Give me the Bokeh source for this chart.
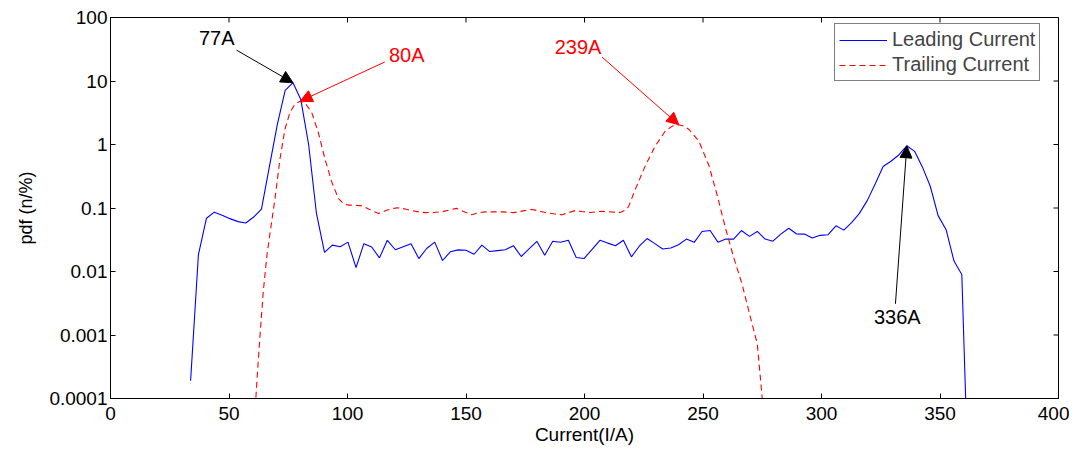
import math
from bokeh.plotting import figure
from bokeh.models import (FixedTicker, CustomJSTickFormatter,
                          Arrow, NormalHead, Label, Legend, LegendItem)
from bokeh.embed import file_html
from bokeh.resources import INLINE

# ---------------- data ----------------
lead_x = [33.8, 37.1, 40.5, 43.8, 47.1, 50.4, 53.8, 57.1, 60.4, 63.7,
          67.0, 70.4, 73.7, 77.0, 80.3, 83.6, 86.9, 90.3, 93.6, 96.9,
          100.2, 103.6, 106.9, 110.2, 113.5, 116.8, 120.2, 123.5, 126.8, 130.1,
          133.4, 136.8, 140.1, 143.4, 146.7, 150.0, 153.4, 156.7, 160.0, 163.3,
          166.6, 170.0, 173.3, 176.6, 179.9, 183.2, 186.6, 189.9, 193.2, 196.5,
          199.8, 203.2, 206.5, 209.8, 213.1, 216.4, 219.8, 223.1, 226.4, 229.7,
          233.0, 236.4, 239.7, 243.0, 246.3, 249.6, 253.0, 256.3, 259.6, 262.9,
          266.2, 269.6, 272.9, 276.2, 279.5, 282.8, 286.2, 289.5, 292.8, 296.1,
          299.4, 302.8, 306.1, 309.4, 312.7, 316.0, 319.4, 322.7, 326.0, 329.3,
          332.6, 336.0, 339.3, 342.6, 345.9, 349.2, 352.6, 355.9, 359.2, 362.5]
lead_y = [0.00019, 0.0185, 0.069, 0.086, 0.077, 0.068, 0.061, 0.058, 0.072, 0.096,
          0.44, 2.08, 7.1, 9.4, 5.1, 1.0, 0.082, 0.020, 0.026, 0.0246,
          0.029, 0.0115, 0.0274, 0.0243, 0.0164, 0.031, 0.022, 0.0246, 0.0274, 0.016,
          0.023, 0.029, 0.0149, 0.0204, 0.0219, 0.0216, 0.0187, 0.026, 0.0206, 0.0213,
          0.022, 0.0255, 0.0172, 0.0227, 0.0299, 0.018, 0.0299, 0.0288, 0.031, 0.0166,
          0.016, 0.0223, 0.031, 0.028, 0.0255, 0.031, 0.017, 0.025, 0.033, 0.0275,
          0.0226, 0.0235, 0.0264, 0.0324, 0.0288, 0.0427, 0.0442, 0.029, 0.0324, 0.0324,
          0.0442, 0.0357, 0.0427, 0.0324, 0.030, 0.0388, 0.048, 0.039, 0.0388, 0.0336,
          0.0371, 0.038, 0.0525, 0.0448, 0.059, 0.0824, 0.133, 0.241, 0.45, 0.545,
          0.684, 0.955, 0.78, 0.44, 0.22, 0.0758, 0.0453, 0.0146, 0.009, 0.000001]

trail_x = [60.8, 62.0, 63.1, 64.5, 66.0, 67.3, 69.4, 71.5, 73.6, 75.7,
           77.8, 80.0, 82.5, 84.9, 87.7, 90.5, 93.3, 96.2, 98.5, 100.5,
           103.2, 106.0, 108.1, 110.5, 113.1, 116.5, 120.8, 124.0, 127.1, 130.0,
           132.8, 136.0, 139.8, 143.0, 146.1, 149.0, 152.5, 155.0, 158.1, 162.0,
           165.2, 170.1, 174.0, 177.8, 183.4, 187.0, 190.5, 193.0, 196.1, 199.0,
           202.5, 207.4, 211.0, 215.1, 217.0, 218.6, 221.5, 225.7, 229.9, 234.1,
           237.0, 239.8, 242.0, 244.0, 248.2, 252.5, 256.0, 259.5, 263.0, 266.5,
           270.0, 272.9, 275.0, 276.0]
trail_y = [0.00005, 0.00025, 0.001, 0.005, 0.018, 0.04, 0.14, 0.59, 1.74, 3.2,
           4.3, 4.8, 4.3, 3.2, 1.54, 0.59, 0.26, 0.14, 0.115, 0.111,
           0.111, 0.108, 0.1, 0.09, 0.082, 0.092, 0.101, 0.097, 0.091, 0.087,
           0.0845, 0.085, 0.087, 0.093, 0.0986, 0.088, 0.078, 0.084, 0.087, 0.087,
           0.087, 0.0845, 0.09, 0.095, 0.085, 0.081, 0.078, 0.084, 0.091, 0.088,
           0.085, 0.089, 0.087, 0.085, 0.092, 0.105, 0.2, 0.466, 0.955, 1.63,
           1.95, 2.05, 1.95, 1.74, 1.14, 0.466, 0.158, 0.048, 0.0164, 0.0063,
           0.0019, 0.00073, 0.0001, 0.00005]

x_ticks = [0, 50, 100, 150, 200, 250, 300, 350, 400]
y_ticks = [0.0001, 0.001, 0.01, 0.1, 1, 10, 100]

# annotations: label, text position, arrow start, colour
ann_labels = ["77A", "80A", "239A", "336A"]
ann_text_x = [44.8, 125.0, 197.3, 332.0]
ann_text_y = [47.0, 25.6, 34.1, 0.0019]
ann_start_x = [53.2, 115.7, 207.4, 331.2]
ann_start_y = [30.6, 19.9, 23.8, 0.0031]
ann_colors = ["black", "red", "red", "black"]

# ---------------- figure ----------------
FONT = "Liberation Sans"
X0, X1 = 0, 400
Y0, Y1 = 1e-4, 100
p = figure(width=1069, height=447, x_range=(X0, X1), y_range=(Y0, Y1),
           y_axis_type="log", output_backend="svg", toolbar_location=None,
           min_border_left=110, min_border_right=11, min_border_top=17,
           min_border_bottom=45)
p.xgrid.visible = False
p.ygrid.visible = False
p.outline_line_color = "black"
p.outline_line_alpha = 1
p.background_fill_color = "white"
p.border_fill_color = "white"

fmt = CustomJSTickFormatter(code="return String(Number(tick.toPrecision(1)));")

xa = p.xaxis[0]
xa.ticker = FixedTicker(ticks=x_ticks)
xa.axis_label = "Current(I/A)"
ya = p.yaxis[0]
ya.ticker = FixedTicker(ticks=y_ticks)
ya.formatter = fmt
ya.axis_label = "pdf (n/%)"

for ax in (xa, ya):
    ax.major_tick_in = 5
    ax.major_tick_out = 0
    ax.minor_tick_line_color = None
    ax.axis_line_color = "black"
    ax.major_label_text_font = FONT
    ax.major_label_text_font_size = "19px"
    ax.major_label_text_color = "black"
    ax.axis_label_text_font = FONT
    ax.axis_label_text_font_style = "normal"
    ax.axis_label_text_color = "black"
xa.axis_label_text_font_size = "19px"
ya.axis_label_text_font_size = "18px"
xa.major_label_text_line_height = 0.8
xa.axis_label_text_line_height = 0.8
xa.major_label_standoff = 8
xa.axis_label_standoff = 1
ya.major_label_standoff = 3
ya.axis_label_standoff = 10

# inward tick marks on the top and right edges of the box (clipped to frame)
p.scatter(x_ticks, [Y1] * len(x_ticks), marker="dash", size=10, angle=math.pi / 2,
          line_color="black", line_width=1)
p.scatter([X1] * len(y_ticks), y_ticks, marker="dash", size=10,
          line_color="black", line_width=1)

r1 = p.line(lead_x, lead_y, line_color="#0000ff", line_width=1.1)
r2 = p.line(trail_x, trail_y, line_color="#ff0000", line_width=1.1, line_dash="6 4")

# arrows pointing at peaks
tips = [(lead_x[13], lead_y[13]), (trail_x[11], trail_y[11]),
        (trail_x[61], trail_y[61]), (lead_x[91], lead_y[91])]
for lab, tx, ty, sx, sy, col, (ex, ey) in zip(ann_labels, ann_text_x, ann_text_y,
                                              ann_start_x, ann_start_y, ann_colors, tips):
    p.add_layout(Arrow(end=NormalHead(size=12, fill_color=col, line_color=col),
                       x_start=sx, y_start=sy, x_end=ex, y_end=ey,
                       line_color=col, line_width=1))
    p.add_layout(Label(x=tx, y=ty, text=lab, text_align="center",
                       text_baseline="middle", text_font=FONT,
                       text_font_size="20px", text_color=col))

legend = Legend(items=[LegendItem(label="Leading Current", renderers=[r1]),
                       LegendItem(label="Trailing Current", renderers=[r2])],
                location=(724, 317), border_line_color="black", border_line_width=1,
                background_fill_color="white", background_fill_alpha=1,
                label_text_font=FONT, label_text_font_size="20px",
                glyph_width=48, glyph_height=20, label_height=20, spacing=2,
                padding=4, label_standoff=5, margin=0)
p.add_layout(legend)

open("out.html", "w").write(file_html(p, INLINE))
